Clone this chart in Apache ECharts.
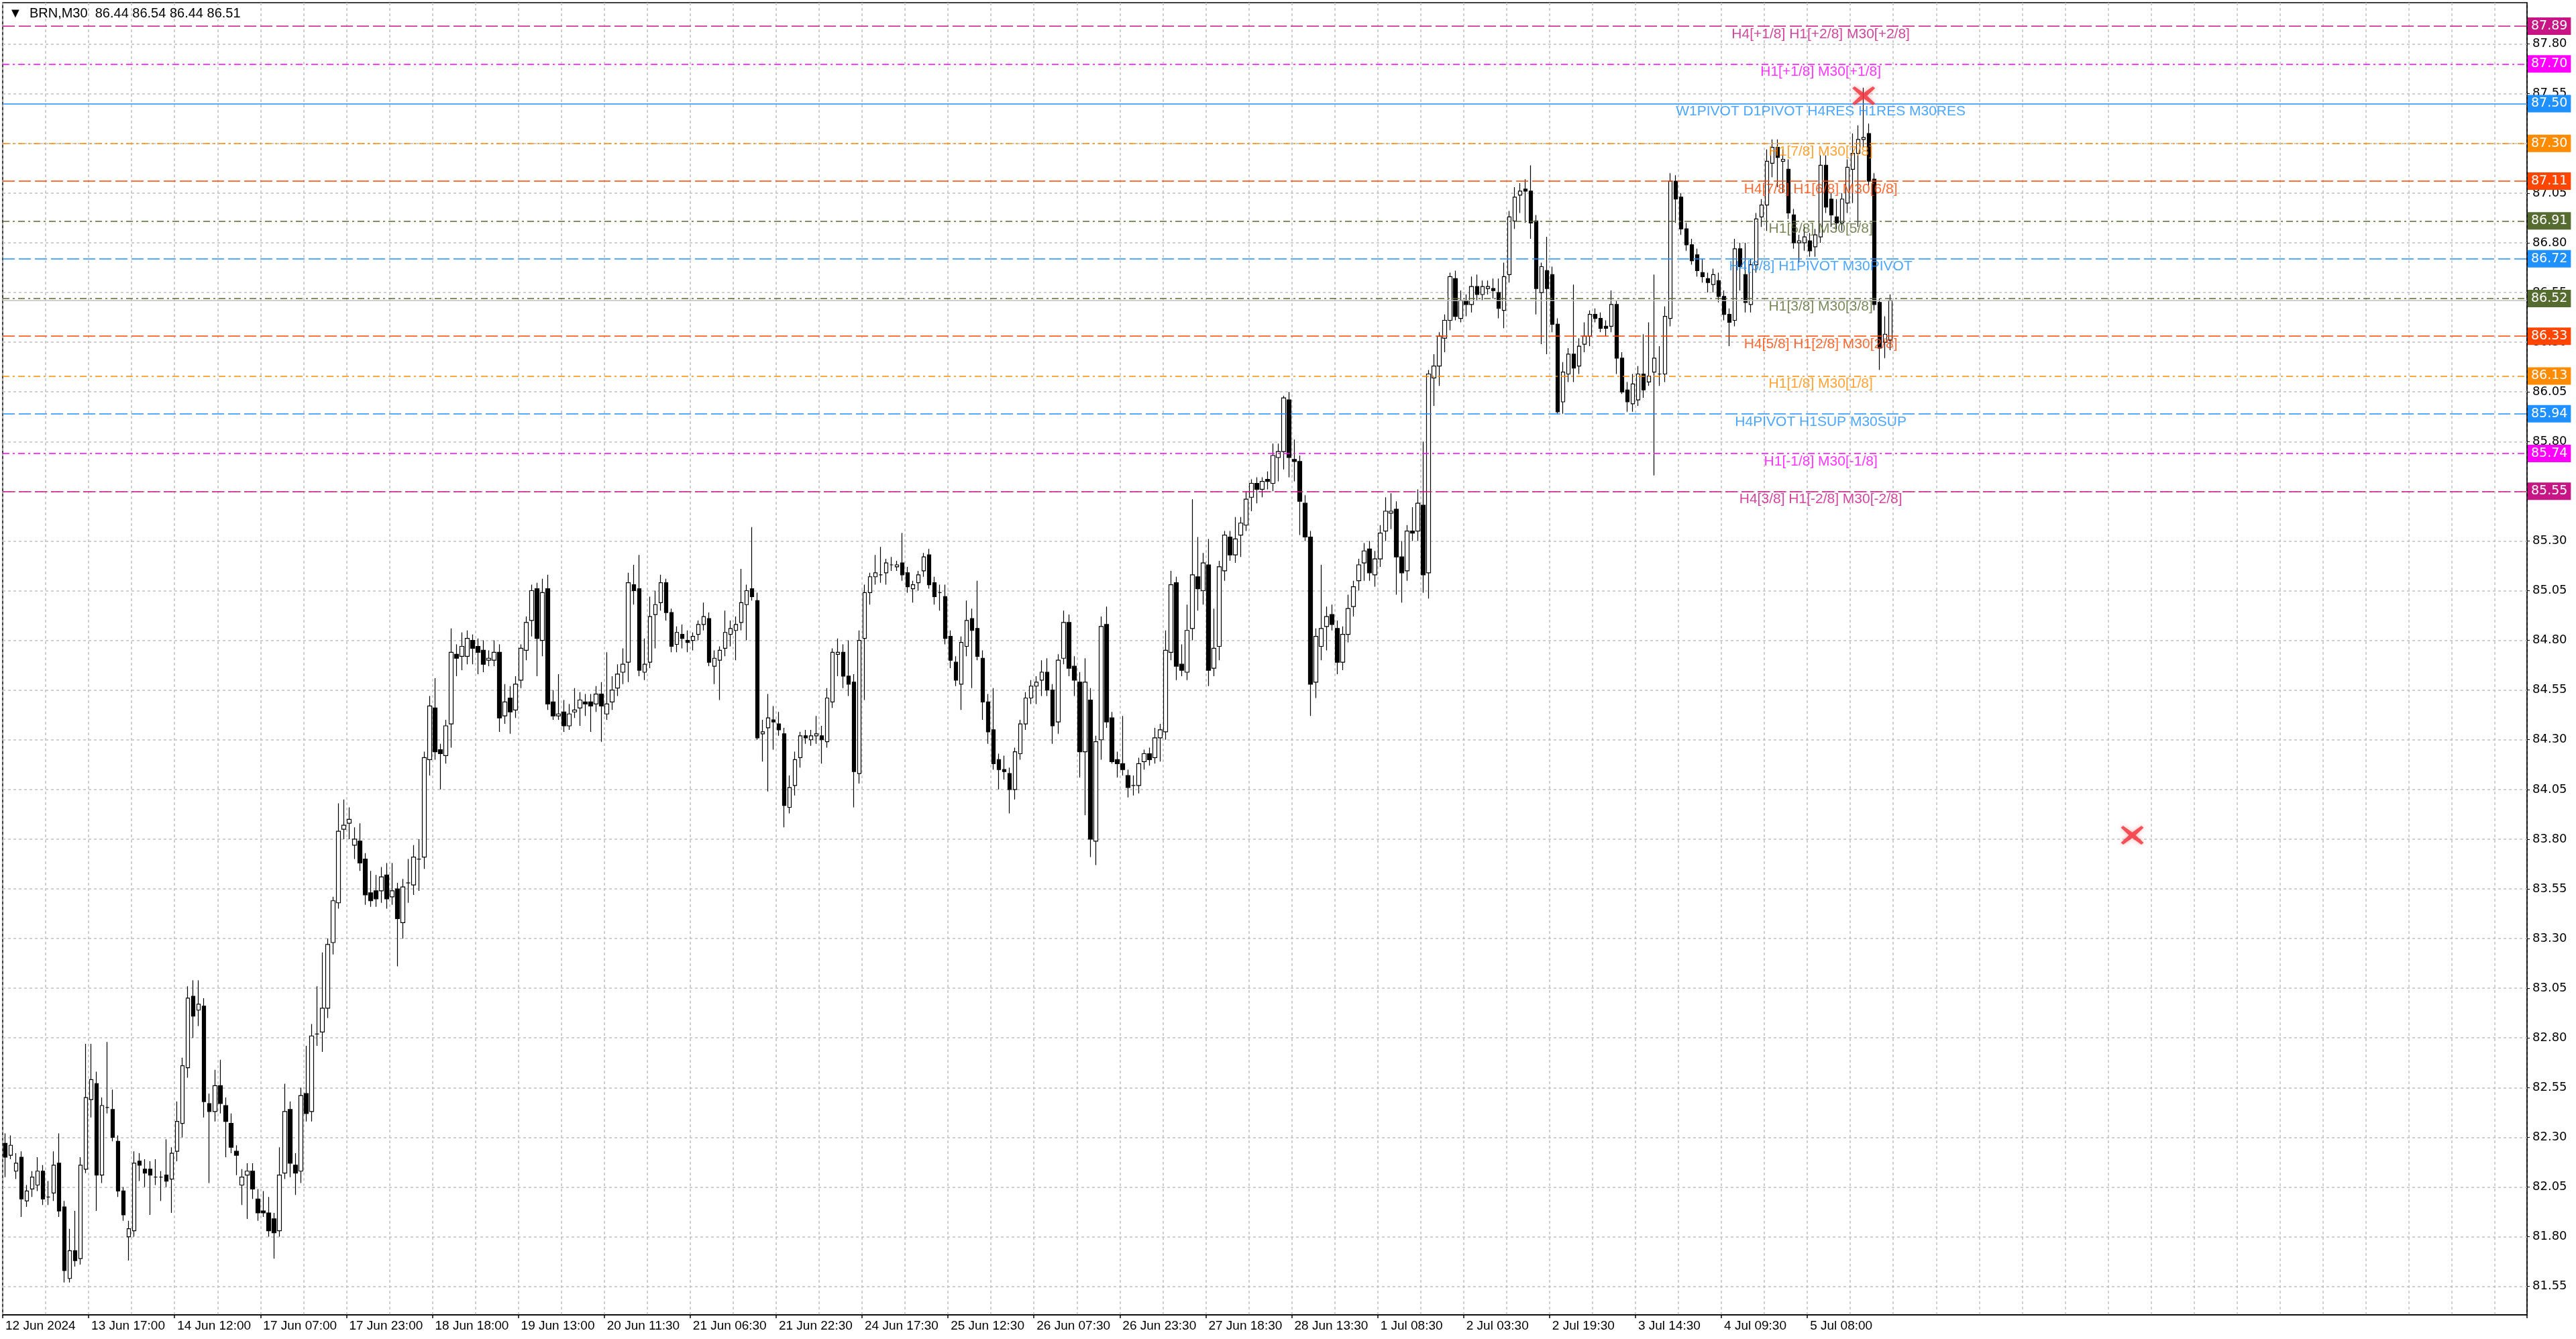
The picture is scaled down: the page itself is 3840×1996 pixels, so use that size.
<!DOCTYPE html>
<html>
<head>
<meta charset="utf-8">
<title>BRN,M30</title>
<script src="https://cdn.jsdelivr.net/npm/echarts@6/dist/echarts.min.js"></script>
<style>
html, body { margin: 0; padding: 0; background: #fff; }
#main { width: 3840px; height: 1996px; }
</style>
</head>
<body>
<div id="main"></div>
<script type="text/javascript">

// header: symbol and OHLC of the current bar
var symbolName = 'BRN,M30';
var lastQuote = [86.44, 86.54, 86.44, 86.51];

// time labels under the chart, one every 16 bars
var tickLabels = ['12 Jun 2024', '13 Jun 17:00', '14 Jun 12:00', '17 Jun 07:00', '17 Jun 23:00',
    '18 Jun 18:00', '19 Jun 13:00', '20 Jun 11:30', '21 Jun 06:30', '21 Jun 22:30', '24 Jun 17:30',
    '25 Jun 12:30', '26 Jun 07:30', '26 Jun 23:30', '27 Jun 18:30', '28 Jun 13:30', '1 Jul 08:30',
    '2 Jul 03:30', '2 Jul 19:30', '3 Jul 14:30', '4 Jul 09:30', '5 Jul 08:00'];

// price scale labels
var yTicks = [81.55, 81.80, 82.05, 82.30, 82.55, 82.80, 83.05, 83.30, 83.55, 83.80, 84.05, 84.30, 84.55,
    84.80, 85.05, 85.30, 85.55, 85.80, 86.05, 86.30, 86.55, 86.80, 87.05, 87.30, 87.55, 87.80];

// levels drawn by the indicator
var levelPrices = [87.89, 87.70, 87.50, 87.30, 87.11, 86.91, 86.72, 86.52, 86.33, 86.13, 85.94, 85.74, 85.55];
var levelNames = ['H4[+1/8] H1[+2/8] M30[+2/8]', 'H1[+1/8] M30[+1/8]', 'W1PIVOT D1PIVOT H4RES H1RES M30RES',
    'H1[7/8] M30[7/8]', 'H4[7/8] H1[6/8] M30[6/8]', 'H1[5/8] M30[5/8]', 'H4[6/8] H1PIVOT M30PIVOT',
    'H1[3/8] M30[3/8]', 'H4[5/8] H1[2/8] M30[2/8]', 'H1[1/8] M30[1/8]', 'H4PIVOT H1SUP M30SUP',
    'H1[-1/8] M30[-1/8]', 'H4[3/8] H1[-2/8] M30[-2/8]'];
var bidPrice = 86.51;

// red cross objects: [bar index, price]
var crossMarks = [[346, 87.54], [396, 83.82]];

// bars: open, high, low, close
var ohlc = [
    [82.27,82.32,82.10,82.20],[82.21,82.31,82.19,82.26],[82.13,82.22,82.09,82.17],[82.20,82.23,81.90,81.99],
    [81.98,82.06,81.95,82.03],[82.04,82.13,82.00,82.10],[82.06,82.20,82.03,82.13],[82.13,82.16,81.96,81.99],
    [82.00,82.08,81.96,82.00],[82.02,82.23,81.98,82.16],[82.17,82.32,81.90,81.93],[81.95,81.98,81.57,81.63],
    [81.59,81.84,81.57,81.73],[81.73,81.93,81.65,81.68],[81.69,82.20,81.66,82.16],[82.14,82.77,82.12,82.50],
    [82.49,82.77,82.40,82.59],[82.57,82.63,81.93,82.11],[82.11,82.50,82.07,82.46],[82.45,82.78,82.42,82.45],
    [82.44,82.54,82.28,82.30],[82.28,82.31,82.00,82.03],[82.03,82.05,81.88,81.91],[81.80,81.88,81.68,81.84],
    [81.83,82.23,81.80,82.17],[82.18,82.22,82.08,82.16],[82.14,82.19,82.05,82.12],[82.14,82.18,81.91,82.11],
    [82.10,82.19,82.06,82.10],[82.10,82.13,81.98,82.10],[82.11,82.29,82.05,82.08],[82.09,82.25,81.92,82.22],
    [82.23,82.48,82.18,82.38],[82.37,82.70,82.30,82.66],[82.65,83.06,82.60,83.00],[83.01,83.09,82.80,82.91],
    [82.94,83.09,82.86,82.97],[82.96,83.00,82.40,82.48],[82.47,82.52,82.07,82.43],[82.43,82.64,82.38,82.56],
    [82.56,82.69,82.42,82.47],[82.46,82.50,82.20,82.38],[82.37,82.42,82.22,82.25],[82.23,82.26,82.11,82.21],
    [82.06,82.14,81.96,82.10],[82.11,82.17,81.89,82.13],[82.13,82.17,81.99,82.04],[81.99,82.04,81.88,81.92],
    [81.93,82.03,81.90,81.92],[81.92,82.00,81.80,81.83],[81.89,81.92,81.69,81.82],[81.83,82.25,81.80,82.11],
    [82.12,82.57,82.09,82.43],[82.44,82.48,82.10,82.17],[82.16,82.22,82.01,82.12],[82.13,82.55,82.07,82.51],
    [82.52,82.76,82.38,82.42],[82.43,82.87,82.38,82.81],[82.82,83.06,82.76,82.82],[82.83,83.23,82.73,82.95],
    [82.95,83.30,82.90,83.27],[83.28,83.51,83.22,83.49],[83.48,83.98,83.45,83.84],[83.85,84.00,83.80,83.87],
    [83.88,83.96,83.80,83.90],[83.77,83.86,83.70,83.80],[83.79,83.88,83.64,83.68],[83.70,83.73,83.47,83.52],
    [83.53,83.64,83.46,83.49],[83.54,83.62,83.46,83.50],[83.54,83.66,83.48,83.61],[83.62,83.68,83.45,83.50],
    [83.51,83.68,83.47,83.54],[83.55,83.58,83.16,83.40],[83.38,83.60,83.30,83.56],[83.58,83.70,83.48,83.58],
    [83.57,83.77,83.52,83.71],[83.70,83.80,83.54,83.70],[83.71,84.24,83.65,84.21],[84.20,84.52,84.12,84.47],
    [84.46,84.61,84.20,84.24],[84.25,84.28,84.05,84.23],[84.22,84.40,84.18,84.37],[84.38,84.86,84.26,84.74],
    [84.73,84.78,84.62,84.71],[84.72,84.84,84.65,84.77],[84.72,84.85,84.68,84.81],[84.80,84.83,84.68,84.76],
    [84.77,84.81,84.63,84.74],[84.75,84.80,84.64,84.68],[84.70,84.75,84.67,84.71],[84.70,84.80,84.67,84.74],
    [84.74,84.78,84.34,84.41],[84.42,84.58,84.38,84.49],[84.51,84.57,84.33,84.44],[84.45,84.62,84.41,84.58],
    [84.60,84.78,84.56,84.76],[84.75,84.92,84.70,84.89],[84.90,85.08,84.82,85.05],[85.06,85.09,84.62,84.81],
    [84.80,85.11,84.72,85.04],[85.06,85.13,84.45,84.48],[84.49,84.55,84.40,84.42],[84.42,84.63,84.40,84.43],
    [84.44,84.50,84.34,84.37],[84.37,84.48,84.35,84.43],[84.44,84.56,84.41,84.45],[84.46,84.54,84.37,84.50],
    [84.49,84.53,84.42,84.48],[84.49,84.53,84.34,84.47],[84.48,84.57,84.44,84.53],[84.53,84.59,84.29,84.47],
    [84.43,84.74,84.40,84.48],[84.49,84.62,84.45,84.55],[84.56,84.68,84.52,84.63],[84.64,84.76,84.58,84.68],
    [84.69,85.14,84.59,85.09],[85.08,85.18,84.98,85.05],[85.06,85.23,84.62,84.65],[84.64,84.81,84.60,84.68],
    [84.69,85.02,84.66,84.92],[84.93,85.05,84.76,84.98],[84.99,85.13,84.95,85.09],[85.09,85.11,84.90,84.94],
    [84.94,84.96,84.74,84.77],[84.78,84.87,84.74,84.84],[84.83,84.88,84.76,84.81],[84.80,84.85,84.74,84.79],
    [84.80,84.84,84.75,84.82],[84.83,84.90,84.80,84.88],[84.88,84.99,84.85,84.92],[84.91,84.94,84.67,84.69],
    [84.67,84.75,84.58,84.71],[84.70,84.77,84.50,84.75],[84.76,84.95,84.72,84.84],[84.83,84.90,84.77,84.86],
    [84.85,84.92,84.70,84.88],[84.89,85.16,84.85,84.99],[84.98,85.08,84.80,85.05],[85.06,85.37,85.00,85.02],
    [85.00,85.04,84.30,84.31],[84.33,84.40,84.19,84.34],[84.36,84.53,84.04,84.41],[84.40,84.47,84.25,84.39],
    [84.38,84.44,84.32,84.35],[84.33,84.36,83.86,83.97],[83.96,84.12,83.93,84.06],[84.07,84.24,84.02,84.20],
    [84.21,84.34,84.16,84.32],[84.32,84.35,84.28,84.31],[84.30,84.35,84.27,84.32],[84.32,84.42,84.28,84.33],
    [84.32,84.37,84.18,84.30],[84.29,84.56,84.26,84.51],[84.49,84.76,84.46,84.74],[84.73,84.81,84.62,84.74],
    [84.74,84.78,84.56,84.62],[84.62,84.80,84.52,84.58],[84.59,84.63,83.96,84.14],[84.13,84.85,84.08,84.80],
    [84.81,85.08,84.50,85.04],[85.04,85.14,84.98,85.12],[85.12,85.23,85.08,85.14],[85.13,85.27,85.09,85.13],
    [85.14,85.21,85.08,85.19],[85.18,85.22,85.15,85.18],[85.17,85.20,85.15,85.18],[85.19,85.34,85.10,85.13],
    [85.14,85.17,85.04,85.07],[85.06,85.10,84.99,85.08],[85.09,85.15,85.05,85.13],[85.15,85.24,85.12,85.22],
    [85.23,85.26,85.06,85.08],[85.09,85.12,84.98,85.02],[85.04,85.08,84.95,85.04],[85.02,85.08,84.78,84.81],
    [84.82,84.85,84.66,84.70],[84.69,84.72,84.57,84.60],[84.58,84.82,84.45,84.79],[84.77,85.00,84.72,84.90],
    [84.91,84.96,84.56,84.85],[84.86,85.10,84.70,84.72],[84.71,84.75,84.40,84.49],[84.49,84.53,84.28,84.34],
    [84.35,84.56,84.15,84.18],[84.20,84.23,84.05,84.15],[84.15,84.22,84.10,84.14],[84.13,84.16,83.93,84.05],
    [84.05,84.26,84.00,84.24],[84.23,84.40,84.20,84.38],[84.38,84.54,84.35,84.51],[84.51,84.60,84.48,84.57],
    [84.57,84.62,84.48,84.59],[84.60,84.70,84.52,84.64],[84.64,84.71,84.52,84.55],[84.55,84.58,84.28,84.37],
    [84.39,84.73,84.33,84.70],[84.71,84.95,84.68,84.89],[84.89,84.93,84.62,84.66],[84.67,84.72,84.52,84.60],
    [84.59,84.64,84.11,84.24],[84.24,84.71,83.92,84.59],[84.50,84.56,83.71,83.80],[83.79,84.32,83.67,84.29],
    [84.30,84.92,84.20,84.87],[84.88,84.97,84.36,84.39],[84.41,84.44,84.18,84.19],[84.20,84.24,84.11,84.18],
    [84.18,84.42,84.12,84.15],[84.12,84.15,84.01,84.06],[84.07,84.12,84.02,84.07],[84.07,84.21,84.03,84.18],
    [84.19,84.25,84.15,84.23],[84.23,84.26,84.17,84.20],[84.21,84.36,84.18,84.31],[84.31,84.38,84.19,84.35],
    [84.34,84.85,84.30,84.75],[84.74,85.15,84.70,85.08],[85.09,85.12,84.60,84.67],[84.68,84.78,84.62,84.65],
    [84.64,84.98,84.60,84.85],[84.86,85.51,84.80,85.13],[85.12,85.32,84.95,85.06],[85.05,85.24,84.98,85.19],
    [85.18,85.31,84.57,84.65],[84.66,84.96,84.62,84.76],[84.77,85.20,84.70,85.17],[85.15,85.35,85.10,85.33],
    [85.32,85.35,85.20,85.23],[85.23,85.42,85.19,85.31],[85.33,85.42,85.22,85.39],[85.38,85.55,85.35,85.51],
    [85.52,85.61,85.45,85.59],[85.59,85.62,85.49,85.56],[85.56,85.62,85.52,85.60],[85.61,85.65,85.56,85.60],
    [85.59,85.79,85.55,85.73],[85.72,85.79,85.60,85.75],[85.75,86.03,85.66,86.02],[86.01,86.05,85.62,85.72],
    [85.71,85.81,85.60,85.70],[85.70,85.73,85.33,85.50],[85.49,85.53,85.30,85.32],[85.32,85.35,84.42,84.58],
    [84.59,84.86,84.51,84.82],[84.77,85.18,84.70,84.86],[84.87,84.97,84.75,84.92],[84.93,84.98,84.85,84.88],
    [84.86,84.90,84.63,84.69],[84.69,84.87,84.65,84.83],[84.83,85.03,84.79,84.96],[84.97,85.10,84.92,85.07],
    [85.10,85.21,85.05,85.18],[85.19,85.29,85.10,85.25],[85.26,85.30,85.10,85.14],[85.13,85.25,85.07,85.21],
    [85.21,85.38,85.17,85.34],[85.35,85.52,85.30,85.45],[85.44,85.54,85.36,85.45],[85.46,85.50,85.03,85.22],
    [85.22,85.30,84.99,85.14],[85.15,85.38,85.10,85.35],[85.35,85.47,85.30,85.34],[85.35,85.56,85.30,85.49],
    [85.48,85.80,85.04,85.13],[85.14,86.16,85.01,86.14],[86.12,86.24,85.98,86.18],[86.18,86.35,86.08,86.33],
    [86.32,86.44,86.25,86.41],[86.41,86.65,86.36,86.63],[86.62,86.66,86.41,86.43],[86.42,86.56,86.40,86.51],
    [86.51,86.54,86.43,86.49],[86.49,86.63,86.45,86.58],[86.58,86.64,86.51,86.54],[86.54,86.61,86.51,86.58],
    [86.57,86.61,86.54,86.58],[86.57,86.62,86.52,86.56],[86.55,86.62,86.42,86.47],[86.46,86.70,86.37,86.63],
    [86.64,86.96,86.60,86.93],[86.91,87.08,86.87,87.03],[87.04,87.10,86.95,87.06],[87.07,87.12,86.90,87.06],
    [87.06,87.19,86.82,86.90],[86.91,86.94,86.44,86.57],[86.55,86.70,86.29,86.68],[86.66,86.83,86.24,86.57],
    [86.64,86.68,86.35,86.39],[86.39,86.42,85.94,85.95],[86.00,86.20,85.94,86.15],[86.14,86.27,86.10,86.24],
    [86.24,86.59,86.10,86.17],[86.18,86.32,86.14,86.28],[86.29,86.40,86.25,86.33],[86.33,86.46,86.28,86.44],
    [86.44,86.47,86.40,86.42],[86.42,86.45,86.35,86.37],[86.38,86.41,86.33,86.37],[86.38,86.56,86.35,86.49],
    [86.49,86.51,86.14,86.22],[86.22,86.25,86.04,86.05],[86.06,86.10,85.95,86.00],[85.99,86.14,85.95,86.09],
    [86.01,86.18,85.98,86.14],[86.14,86.34,86.02,86.06],[86.10,86.40,86.08,86.13],[86.15,86.64,85.63,86.22],
    [86.14,86.28,86.08,86.14],[86.14,86.48,86.10,86.43],[86.42,87.15,86.38,87.11],[87.11,87.14,86.90,87.02],
    [87.03,87.05,86.84,86.87],[86.87,86.90,86.76,86.79],[86.79,86.82,86.69,86.71],[86.74,86.77,86.63,86.66],
    [86.65,86.72,86.60,86.63],[86.62,86.65,86.55,86.60],[86.59,86.67,86.55,86.64],[86.61,86.65,86.50,86.53],
    [86.53,86.56,86.41,86.44],[86.44,86.47,86.28,86.40],[86.41,86.82,86.38,86.77],[86.77,86.80,86.56,86.68],
    [86.64,86.80,86.45,86.50],[86.49,86.72,86.45,86.69],[86.69,86.95,86.65,86.92],[86.93,87.02,86.88,86.99],
    [86.99,87.27,86.86,87.21],[87.20,87.32,87.13,87.28],[87.28,87.32,87.08,87.23],[87.21,87.27,87.05,87.22],
    [87.17,87.22,86.92,86.95],[86.94,86.97,86.77,86.80],[86.80,86.84,86.70,86.81],[86.80,86.88,86.76,86.83],
    [86.81,86.85,86.73,86.76],[86.78,86.87,86.73,86.84],[86.83,87.24,86.80,87.19],[87.19,87.24,86.95,86.98],
    [87.02,87.05,86.88,86.94],[86.93,87.02,86.87,86.90],[86.90,87.05,86.86,87.02],[87.00,87.22,86.95,87.18],
    [87.17,87.35,87.00,87.25],[87.25,87.39,86.88,87.32],[87.32,87.58,87.28,87.33],[87.35,87.40,87.09,87.11],
    [87.12,87.15,86.46,86.49],[86.50,86.52,86.16,86.27],[86.30,86.43,86.22,86.34],[86.31,86.54,86.26,86.51]
];

// styles of the levels (same order as levelPrices)
var levelColors = ['#C71585', '#FF00FF', '#1E90FF', '#FF8C00', '#FF4500', '#556B2F', '#1E90FF',
    '#556B2F', '#FF4500', '#FF8C00', '#1E90FF', '#FF00FF', '#C71585'];
var levelDash = ['dash', 'dashdot', 'solid', 'dashdot', 'dash', 'dashdot', 'dash',
    'dashdot', 'dash', 'dashdot', 'dash', 'dashdot', 'dash'];
var dashTypes = { dash: [18, 6], dashdot: [10, 5, 3, 5], solid: 'solid' };
var gridColor = '#c0c0c0';

var slotCount = 470;      // bar slots across the plot, the right part stays empty
var labelEvery = 16;
var levelTextBar = 338;   // bar under the centre of the level captions

var categories = [];
for (var i = 0; i < slotCount; i++) {
    var k = i / labelEvery;
    categories.push(i % labelEvery === 0 && k < tickLabels.length ? tickLabels[k] : '');
}
function isLabelSlot(index) {
    return index % labelEvery === 0 && index / labelEvery < tickLabels.length;
}

var candleData = ohlc.map(function (b) { return [b[0], b[3], b[2], b[1]]; });

var levelLines = levelPrices.map(function (p, i) {
    return {
        yAxis: p,
        lineStyle: { color: levelColors[i], type: dashTypes[levelDash[i]], width: 1.5 },
        label: {
            show: true,
            position: 'end',
            distance: 1,
            formatter: p.toFixed(2),
            color: '#fff',
            backgroundColor: levelColors[i],
            padding: [4, 5, 3, 5],
            fontFamily: 'DejaVu Sans',
            fontSize: 19
        }
    };
});
levelLines.push({
    yAxis: bidPrice,
    lineStyle: { color: gridColor, type: 'solid', width: 1.5 },
    label: { show: false }
});

// horizontal grid at the price labels
var gridLines = yTicks.map(function (v) { return { yAxis: v }; });

var levelText = levelPrices.map(function (p, i) {
    return {
        value: [levelTextBar, p],
        label: { color: levelColors[i], formatter: levelNames[i] }
    };
});

var myChart = echarts.init(document.getElementById('main'), null, { renderer: 'canvas' });

var option = {
    animation: false,
    backgroundColor: '#ffffff',
    title: {
        text: '\u25BC  ' + symbolName + '  ' + lastQuote.map(function (v) { return v.toFixed(2); }).join(' '),
        left: 8,
        top: 5,
        textStyle: { color: '#000', fontSize: 20, fontWeight: 'normal', fontFamily: 'Liberation Sans' }
    },
    grid: {
        left: 4, right: 73, top: 4, bottom: 36,
        show: true, borderColor: '#000', borderWidth: 1.5, backgroundColor: '#fff'
    },
    xAxis: {
        type: 'category',
        data: categories,
        boundaryGap: true,
        axisLine: { lineStyle: { color: '#000', width: 1.5 } },
        axisTick: { show: true, interval: isLabelSlot, length: 5, lineStyle: { color: '#000', width: 1.5 } },
        axisLabel: {
            interval: isLabelSlot,
            align: 'left',
            margin: 7,
            color: '#000',
            fontSize: 19,
            fontFamily: 'Liberation Sans'
        },
        splitLine: {
            show: true,
            interval: function (index) { return index % 8 === 0; },
            lineStyle: { color: gridColor, type: [4, 4], width: 1.5 }
        }
    },
    yAxis: {
        type: 'value',
        position: 'right',
        min: 81.407,
        max: 88.008,
        axisLine: { show: true, lineStyle: { color: '#000', width: 1.5 } },
        axisTick: { show: true, customValues: yTicks, length: 4, lineStyle: { color: '#000' } },
        axisLabel: {
            customValues: yTicks,
            formatter: function (v) { return v.toFixed(2); },
            margin: 8,
            color: '#000',
            fontSize: 18,
            fontFamily: 'DejaVu Sans'
        },
        splitLine: { show: false }
    },
    series: [
        {
            name: 'grid',
            type: 'scatter',
            data: [],
            silent: true,
            z: 1,
            markLine: {
                silent: true,
                z: 1,
                symbol: ['none', 'none'],
                animation: false,
                label: { show: false },
                lineStyle: { color: gridColor, type: [4, 4], width: 1.5 },
                data: gridLines
            }
        },
        {
            name: 'BRN',
            type: 'candlestick',
            data: candleData,
            barWidth: 6,
            z: 3,
            itemStyle: {
                color: '#ffffff',
                color0: '#000000',
                borderColor: '#000000',
                borderColor0: '#000000',
                borderWidth: 1.2
            },
            markLine: {
                silent: true,
                symbol: ['none', 'none'],
                animation: false,
                data: levelLines
            }
        },
        {
            name: 'levels',
            type: 'scatter',
            symbol: 'circle',
            symbolSize: 1,
            itemStyle: { color: 'rgba(0,0,0,0)' },
            silent: true,
            z: 10,
            label: {
                show: true,
                position: 'bottom',
                distance: 1,
                fontSize: 21,
                fontFamily: 'Liberation Sans'
            },
            labelLayout: { hideOverlap: false },
            data: levelText
        },
        {
            name: 'crosses',
            type: 'scatter',
            symbol: 'path://M2,0 L10,7 L18,0 L20,2 L13,10 L20,18 L18,20 L10,13 L2,20 L0,18 L7,10 L0,2 Z',
            symbolSize: [34, 28],
            silent: true,
            z: 11,
            itemStyle: {
                color: '#f0303a',
                shadowBlur: 6,
                shadowColor: 'rgba(255,60,60,0.5)'
            },
            data: crossMarks
        }
    ]
};

myChart.setOption(option);
</script>
</body>
</html>
